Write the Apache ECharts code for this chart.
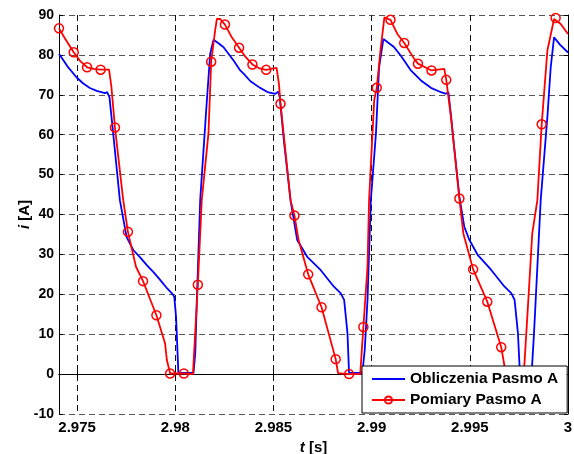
<!DOCTYPE html>
<html>
<head>
<meta charset="utf-8">
<script src="https://cdn.jsdelivr.net/npm/echarts@6/dist/echarts.min.js"></script>
<style>
html,body{margin:0;padding:0;background:#fff;}
#c{width:574px;height:454px;}
</style>
</head>
<body>
<div id="c"></div>
<script>
// Time axis range and tick labels
const xMin = 2.97408, xMax = 3.0;
const xTicks = [2.975, 2.98, 2.985, 2.99, 2.995, 3];
const yTicks = [-10, 0, 10, 20, 30, 40, 50, 60, 70, 80, 90];

// Obliczenia Pasmo A (computed) : [t, i]
const obliczenia = [
  [2.97408,80.3],[2.97450,77.2],[2.97497,74.4],[2.97530,72.9],[2.97565,71.7],[2.97600,71.0],
  [2.97642,70.4],[2.97653,70.7],[2.97665,69.4],[2.97684,60.3],[2.97718,43.6],[2.97752,34.4],
  [2.97786,31.1],[2.97820,29.3],[2.97855,27.3],[2.97890,25.5],[2.97923,23.6],[2.97960,21.4],
  [2.97982,20.3],[2.97995,19.4],[2.98004,14.4],[2.98016,0.3],[2.98093,0.3],[2.98102,5.3],
  [2.98110,18.6],[2.98127,43.6],[2.98161,68.6],[2.98178,80.3],[2.98195,83.8],[2.98220,82.9],
  [2.98246,81.9],[2.98297,78.6],[2.98331,76.1],[2.98348,75.3],[2.98383,73.4],[2.98430,71.8],
  [2.98470,70.7],[2.98510,70.25],[2.98525,70.8],[2.98532,69.4],[2.98553,58.6],[2.98587,43.6],
  [2.98621,33.6],[2.98672,29.4],[2.98740,26.1],[2.98808,21.9],[2.98842,20.3],[2.98860,18.6],
  [2.98877,10.3],[2.98885,0.3],[2.98953,0.3],[2.98965,6.1],[2.98979,18.6],[2.98996,43.6],
  [2.99022,60.3],[2.99038,76.9],[2.99060,84.0],[2.99115,81.9],[2.99149,79.8],[2.99200,76.1],
  [2.99251,73.6],[2.99302,71.75],[2.99353,70.65],[2.99379,70.25],[2.99391,70.65],[2.99405,64.4],
  [2.99422,56.1],[2.99447,44.4],[2.99472,36.9],[2.99498,33.6],[2.99541,29.8],[2.99609,26.1],
  [2.99677,21.9],[2.99711,20.3],[2.99728,18.6],[2.99745,10.3],[2.99755,0.3],[2.99815,0.3],
  [2.99827,10.3],[2.99844,26.9],[2.99861,43.6],[2.99895,64.4],[2.99912,76.9],[2.99929,84.4],
  [2.99960,82.5],[3.00000,80.6]
];

// Pomiary Pasmo A (measured) : [t, i, marker(1) or not(0)]
const pomiary = [
  [2.97408,86.65,1],[2.97440,84.0,0],[2.97483,80.65,1],[2.97515,78.5,0],[2.97551,76.9,1],
  [2.97585,76.5,0],[2.97620,76.3,1],[2.97663,76.3,0],[2.97675,71.9,0],[2.97693,61.8,1],
  [2.97735,43.6,0],[2.97759,35.65,1],[2.97800,26.9,0],[2.97836,23.3,1],[2.97870,19.0,0],
  [2.97904,14.75,1],[2.97948,7.75,0],[2.97957,3.6,0],[2.97974,0.15,1],[2.98044,0.15,1],
  [2.98090,0.0,0],[2.98115,22.4,1],[2.98135,43.6,0],[2.98169,60.25,0],[2.98183,78.3,1],
  [2.98203,86.1,0],[2.98212,89.0,0],[2.98229,89.0,0],[2.98253,87.6,1],[2.98288,84.4,0],
  [2.98325,81.8,1],[2.98358,79.5,0],[2.98393,77.6,1],[2.98430,76.6,0],[2.98463,76.25,1],
  [2.98516,76.75,0],[2.98528,72.75,0],[2.98536,67.75,1],[2.98587,43.6,0],[2.98607,39.75,1],
  [2.98628,33.6,0],[2.98677,25.0,1],[2.98745,16.75,1],[2.98817,3.75,1],[2.98829,0.25,0],
  [2.98885,0.0,1],[2.98942,0.0,0],[2.98958,11.8,1],[2.98979,26.9,0],[2.98987,43.6,0],
  [2.99013,68.6,0],[2.99026,71.75,1],[2.99045,81.1,0],[2.99065,89.4,0],[2.99096,88.8,1],
  [2.99131,85.25,0],[2.99166,83.0,1],[2.99217,79.0,0],[2.99236,77.8,1],[2.99305,76.1,1],
  [2.99370,76.5,0],[2.99380,73.75,1],[2.99404,64.4,0],[2.99447,44.0,1],[2.99467,35.25,0],
  [2.99517,26.25,1],[2.99589,18.15,1],[2.99660,6.75,1],[2.99677,1.9,0],[2.99690,0.0,0],
  [2.99775,0.0,0],[2.99798,18.6,0],[2.99818,35.25,0],[2.99844,43.6,0],[2.99866,62.6,1],
  [2.99895,81.1,0],[2.99929,89.0,0],[2.99937,89.25,1],[2.99963,87.75,0],[3.00000,85.25,0]
];

const font = '"Liberation Sans", Arial, sans-serif';
const chart = echarts.init(document.getElementById('c'));

function xLabel(v){
  for (const t of xTicks) if (Math.abs(v - t) < 1e-7) return String(t);
  return '';
}

const axisCommon = {
  axisLine:{show:true,lineStyle:{color:'#000',width:1}},
  axisTick:{show:true,inside:true,length:4,lineStyle:{color:'#000'}}
};

chart.setOption({
  animation:false,
  backgroundColor:'#fff',
  grid:{left:59,right:6,top:15,bottom:40,containLabel:false,outerBoundsMode:'none'},
  xAxis:[{
    type:'value',min:xMin,max:xMax,splitNumber:5,position:'bottom',
    ...axisCommon,
    axisLabel:{formatter:xLabel,showMinLabel:false,margin:6,color:'#000',
      fontFamily:font,fontWeight:'bold',fontSize:15},
    splitLine:{show:true,lineStyle:{color:'#111',width:1,type:[6,4]}},
    name:'{i|t} [s]',nameLocation:'middle',nameGap:26,nameMoveOverlap:false,
    nameTextStyle:{color:'#000',fontFamily:font,fontWeight:'bold',fontSize:15,
      rich:{i:{fontStyle:'italic',fontWeight:'bold',fontFamily:font,fontSize:15,color:'#000'}}}
  },{
    type:'value',min:xMin,max:xMax,splitNumber:5,position:'top',
    ...axisCommon,axisLabel:{show:false},splitLine:{show:false}
  }],
  yAxis:[{
    type:'value',min:-10,max:90,interval:10,position:'left',
    ...axisCommon,
    axisLabel:{margin:5,color:'#000',fontFamily:font,fontWeight:'bold',fontSize:14},
    splitLine:{show:true,lineStyle:{color:'#555',width:1,type:[6,4]}},
    name:'{i|i} [A]',nameLocation:'middle',nameGap:27,nameMoveOverlap:false,
    nameTextStyle:{color:'#000',fontFamily:font,fontWeight:'bold',fontSize:15,
      rich:{i:{fontStyle:'italic',fontWeight:'bold',fontFamily:font,fontSize:15,color:'#000'}}}
  },{
    type:'value',min:-10,max:90,interval:10,position:'right',
    ...axisCommon,axisLabel:{show:false},splitLine:{show:false}
  }],
  legend:{
    left:362,top:366,orient:'vertical',
    backgroundColor:'#fff',borderColor:'#000',borderWidth:1,
    padding:[5,9,5,9],itemGap:5,itemWidth:33,itemHeight:9,
    textStyle:{color:'#000',fontFamily:font,fontWeight:'bold',fontSize:15.5},
    data:[{name:'Obliczenia Pasmo A',itemStyle:{opacity:0}},'Pomiary Pasmo A']
  },
  series:[{
    name:'Obliczenia Pasmo A',type:'line',xAxisIndex:0,yAxisIndex:0,
    data:obliczenia,showSymbol:false,symbol:'none',color:'#0000ff',
    lineStyle:{color:'#0000ff',width:1.8},z:2
  },{
    name:'Pomiary Pasmo A',type:'line',xAxisIndex:0,yAxisIndex:0,
    data:pomiary.map(p => p[2] ? {value:[p[0],p[1]]} : {value:[p[0],p[1]],symbol:'none'}),
    symbol:'circle',symbolSize:9,showSymbol:true,showAllSymbol:true,color:'#ff0000',
    itemStyle:{color:'rgba(255,255,255,0)',borderColor:'#ff0000',borderWidth:1.5},
    lineStyle:{color:'#ff0000',width:1.8},z:3
  }]
});
</script>
</body>
</html>
